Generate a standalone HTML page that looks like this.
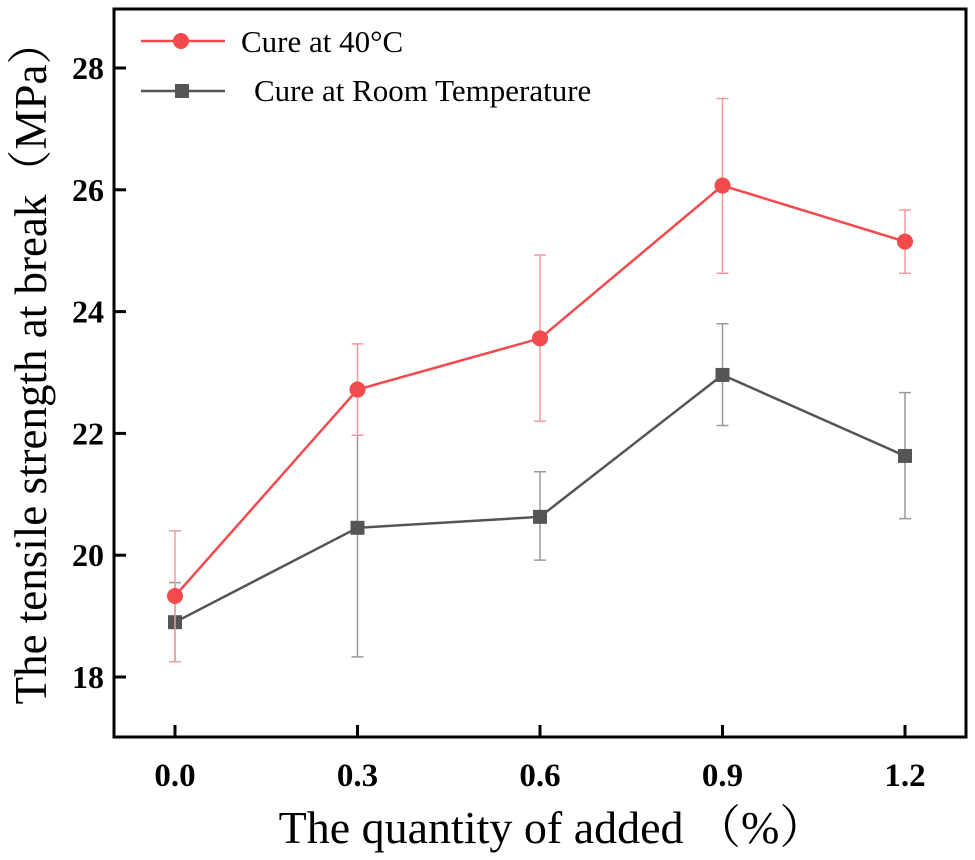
<!DOCTYPE html>
<html><head><meta charset="utf-8">
<style>
html,body{margin:0;padding:0;background:#fff;}
svg{display:block;font-family:"Liberation Serif","Noto Serif CJK SC",serif;}
</style></head>
<body>
<svg id="chart" width="975" height="860" viewBox="0 0 975 860" xmlns="http://www.w3.org/2000/svg">
<g id="plot"></g>
</svg>
<script>
const categories = [0.0, 0.3, 0.6, 0.9, 1.2];
const xTickLabels = ["0.0", "0.3", "0.6", "0.9", "1.2"];
const yTicks = [18, 20, 22, 24, 26, 28];
const redValues = [19.33, 22.72, 23.56, 26.07, 25.15];
const redUpper = [20.4, 23.47, 24.93, 27.5, 25.67];
const redLower = [18.25, 21.97, 22.2, 24.63, 24.63];
const grayValues = [18.9, 20.45, 20.63, 22.96, 21.63];
const grayUpper = [19.55, 21.97, 21.37, 23.8, 22.67];
const grayLower = [18.25, 18.33, 19.92, 22.13, 20.6];

const NS = "http://www.w3.org/2000/svg";
const L = 114, R = 966, T = 9, B = 737;
function xs(v){ return 175 + (v - 0) * (905 - 175) / 1.2; }
function ys(v){ return 677 - (v - 18) * (677 - 68) / 10; }
const g = document.getElementById('plot');
function mk(tag, attrs, parent){
  const e = document.createElementNS(NS, tag);
  for (const k in attrs) e.setAttribute(k, attrs[k]);
  (parent || g).appendChild(e);
  return e;
}

const frame = mk('rect', {x:L, y:T, width:R-L, height:B-T, fill:'none', stroke:'#000', 'stroke-width':3});



yTicks.forEach(v => {
  const t = mk('line', {x1:L, x2:L+12, y1:ys(v), y2:ys(v), stroke:'#000', 'stroke-width':3});
  
  
  const lb = mk('text', {x:L-10, y:ys(v)+11, 'text-anchor':'end', 'font-size':32, 'font-weight':'bold'});
  lb.textContent = v;
  
  
});
categories.forEach((v, i) => {
  const t = mk('line', {x1:xs(v), x2:xs(v), y1:B, y2:B-12, stroke:'#000', 'stroke-width':3});
  
  
  const lb = mk('text', {x:xs(v), y:786, 'text-anchor':'middle', 'font-size':33, 'font-weight':'bold'});
  lb.textContent = xTickLabels[i];
  
  
});

function series(vals, up, lo, color, errColor, marker, name){
  const sg = mk('g', {});
  
  
  vals.forEach((v, i) => {
    const x = xs(categories[i]);
    const eb = mk('path', {d:`M${x-6},${ys(up[i])}H${x+6}M${x},${ys(up[i])}V${ys(lo[i])}M${x-6},${ys(lo[i])}H${x+6}`, stroke:errColor, 'stroke-width':1.5, fill:'none'}, sg);
    
    
  });
  const pts = vals.map((v, i) => xs(categories[i]) + ',' + ys(v)).join(' ');
  const pl = mk('polyline', {points:pts, fill:'none', stroke:color, 'stroke-width':2.5}, sg);
  
  
  vals.forEach((v, i) => {
    const x = xs(categories[i]), y = ys(v);
    let m;
    if (marker === 'circle') m = mk('circle', {cx:x, cy:y, r:8, fill:color}, sg);
    else m = mk('rect', {x:x-7, y:y-7, width:14, height:14, fill:color}, sg);
    
    
  });
}
series(grayValues, grayUpper, grayLower, '#555555', '#999999', 'square', 'room-temp-series');
series(redValues, redUpper, redLower, '#f24a4d', '#f59a9c', 'circle', 'cure-40c-series');

const lg = mk('g', {});


mk('line', {x1:141, x2:225, y1:41, y2:41, stroke:'#f24a4d', 'stroke-width':2.5}, lg);
mk('circle', {cx:181, cy:41, r:8, fill:'#f24a4d'}, lg);
const t1 = mk('text', {x:241, y:52, 'font-size':31}, lg);
t1.textContent = 'Cure at 40°C';


mk('line', {x1:141, x2:225, y1:91, y2:91, stroke:'#555', 'stroke-width':2.5}, lg);
mk('rect', {x:175, y:84, width:14, height:14, fill:'#555'}, lg);
const t2 = mk('text', {x:254, y:101, 'font-size':31}, lg);
t2.textContent = 'Cure at Room Temperature';



const xt = mk('text', {x:552, y:843, 'text-anchor':'middle', 'font-size':46});
xt.textContent = 'The quantity of added （%）';


const yt = mk('text', {x:0, y:0, 'text-anchor':'middle', 'font-size':45, transform:'translate(46,362) rotate(-90)'});
yt.textContent = 'The tensile strength at break（MPa）';


</script>
</body></html>
